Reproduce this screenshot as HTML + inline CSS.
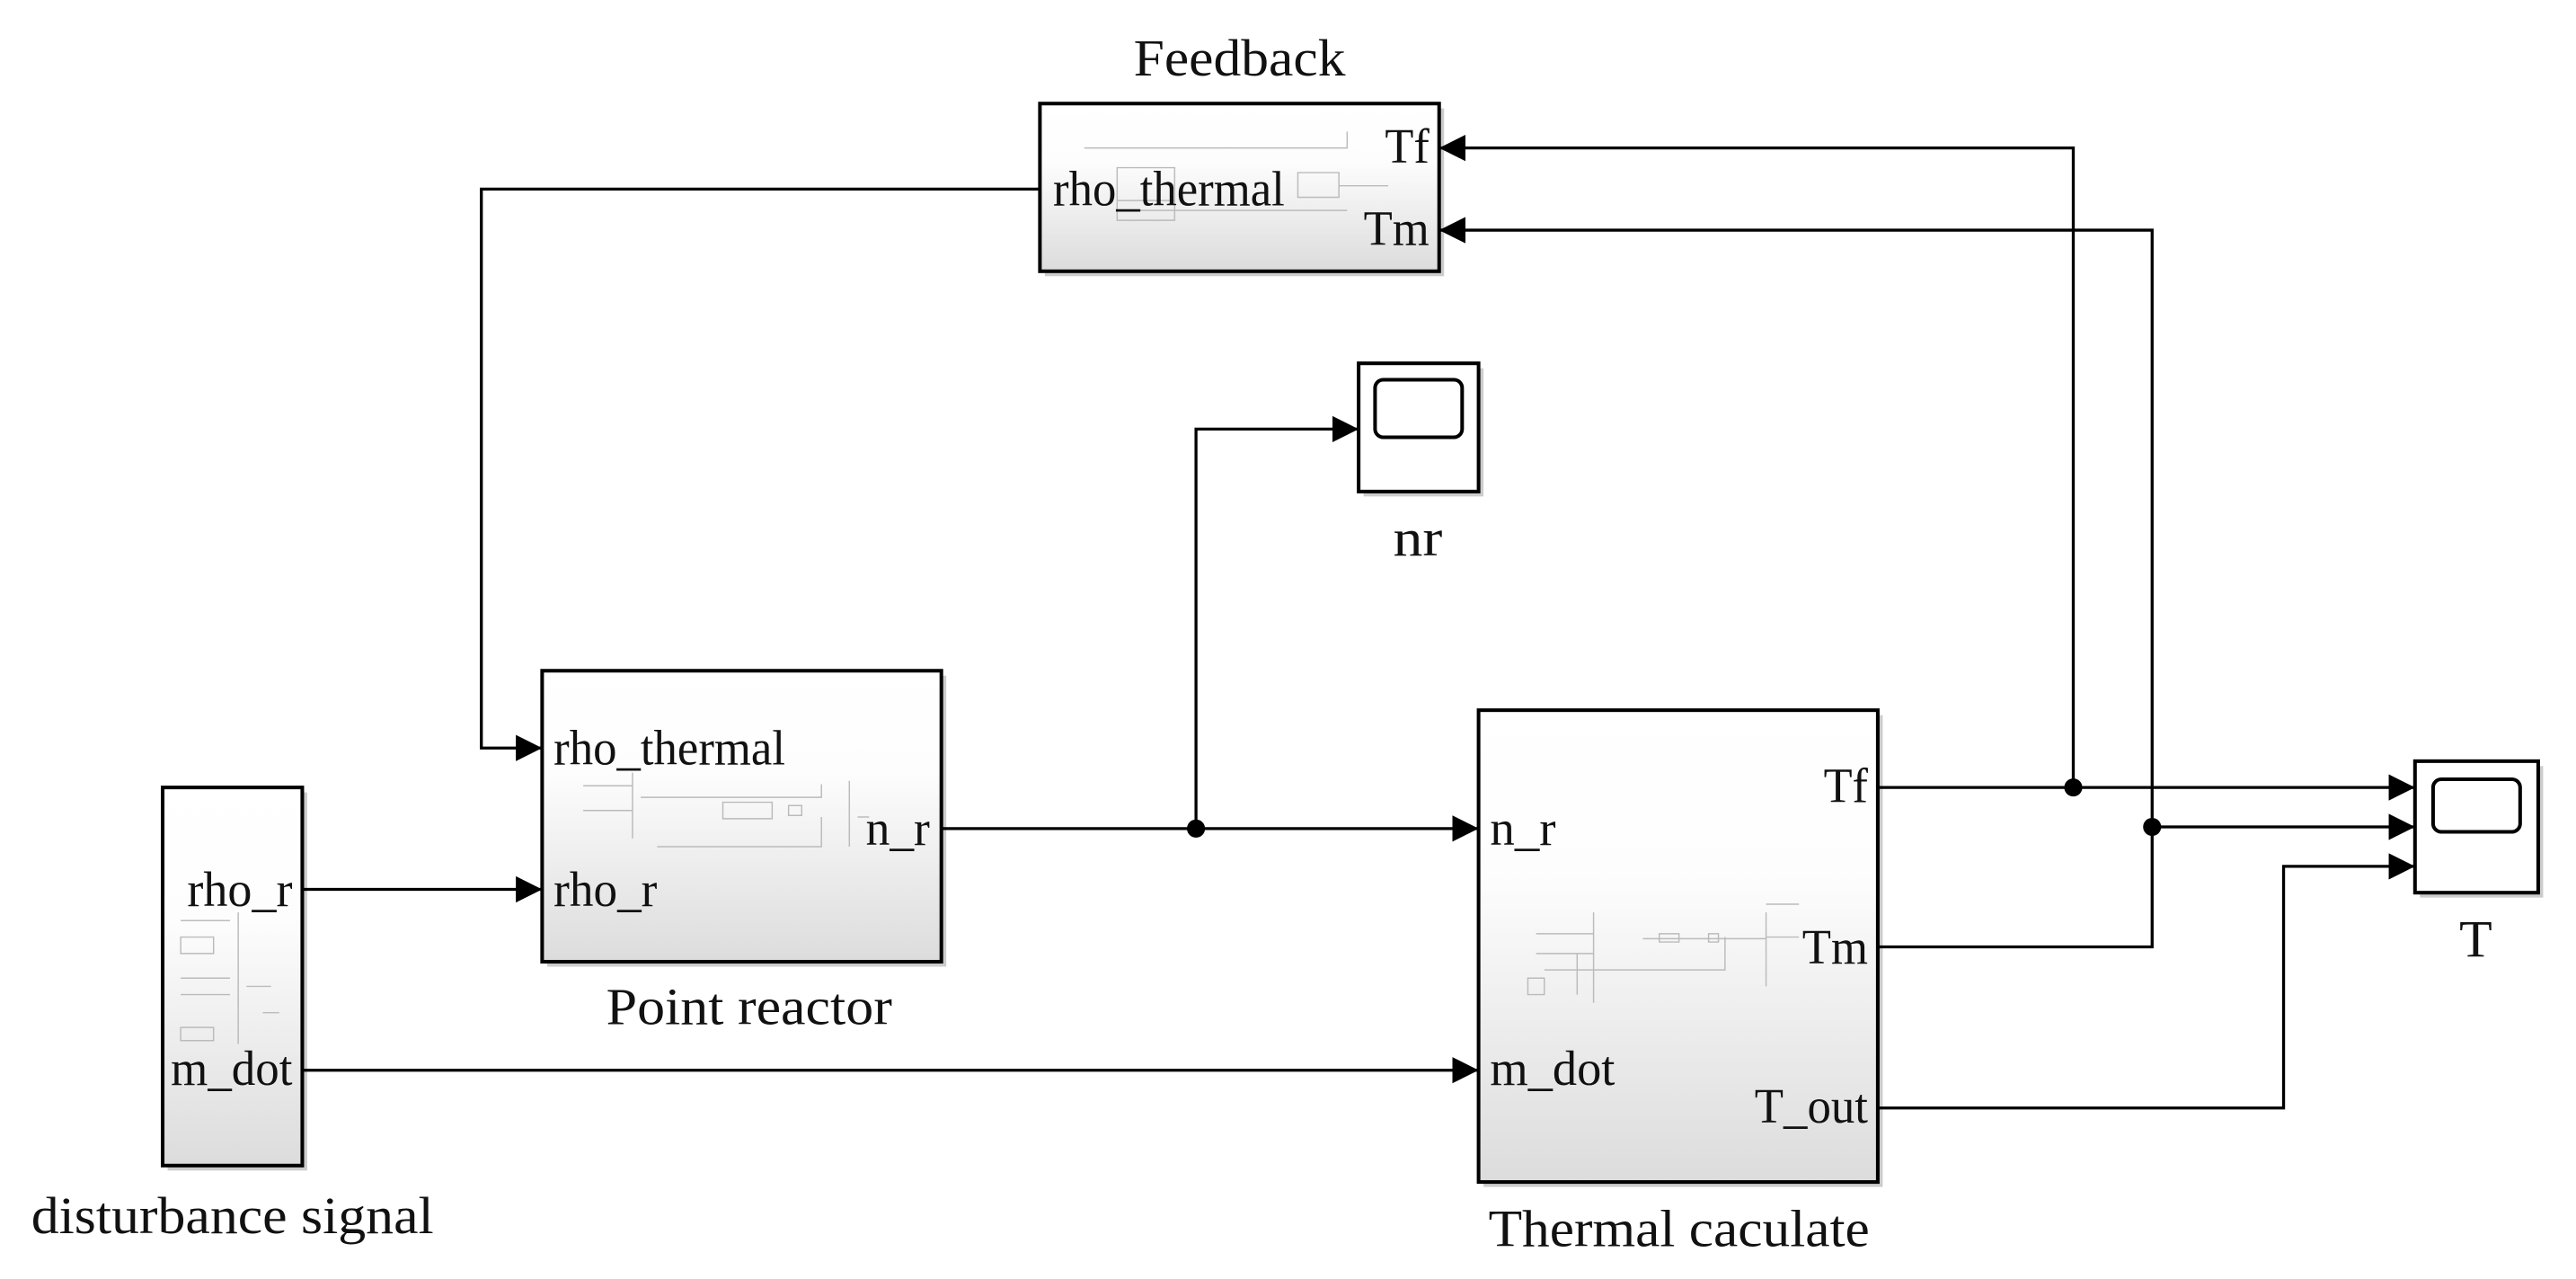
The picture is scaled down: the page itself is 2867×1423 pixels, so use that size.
<!DOCTYPE html>
<html><head><style>html,body{margin:0;padding:0;background:#fff}svg{display:block}</style></head>
<body>
<svg width="2867" height="1423" viewBox="0 0 1568 778" preserveAspectRatio="none" xmlns="http://www.w3.org/2000/svg" font-family="Liberation Serif, serif">
<defs>
<linearGradient id="g" x1="0" y1="0" x2="0" y2="1"><stop offset="0" stop-color="#fff"/><stop offset="0.35" stop-color="#fdfdfd"/><stop offset="1" stop-color="#dcdcdc"/></linearGradient>
<marker id="a" markerWidth="16" markerHeight="16" refX="16" refY="8" orient="auto" markerUnits="userSpaceOnUse"><path d="M0,0 L16,8 L0,16Z" fill="#000"/></marker>
</defs>
<g fill="#ccc"><rect x="636" y="66" width="243" height="102"/><rect x="333" y="411" width="243" height="177"/><rect x="102" y="482" width="85" height="230"/><rect x="903" y="435" width="243" height="287"/><rect x="830" y="224" width="73" height="78"/><rect x="1473" y="466" width="75" height="80"/></g>
<g stroke="#000" stroke-width="2.2"><rect x="633" y="63" width="243" height="102" fill="url(#g)"/><rect x="330" y="408" width="243" height="177" fill="url(#g)"/><rect x="99" y="479" width="85" height="230" fill="url(#g)"/><rect x="900" y="432" width="243" height="287" fill="url(#g)"/><rect x="827" y="221" width="73" height="78" fill="#fff"/><rect x="1470" y="463" width="75" height="80" fill="#fff"/>
<rect x="837" y="231" width="53" height="35" rx="5" fill="#fff"/><rect x="1481" y="474" width="53" height="32" rx="5" fill="#fff"/></g>
<g stroke="#bbb" stroke-width="0.8" fill="none">
<path d="M660,90H820V80 M680,102h35v20h-35z M790,105h25v15h-25z M815,113h30 M680,122h35v12h-35z M680,128H820"/>
<path d="M355,478H385 M355,493H385 M385,470v40 M390,485H500v-8M440,488h30v10h-30z M480,490h8v6h-8z M517,475v40 M522,497h7 M400,515H500v-18"/>
<path d="M110,560h30 M145,555v55 M110,570h20v10h-20z M110,595h30 M110,605h30 M145,590v45 M150,600h15 M110,625h20v8h-20z M160,616h10"/>
<path d="M935,568h35 M970,555v55 M935,580h35 M1000,571h75v-4 M1010,568h12v5h-12z M1040,568h6v5h-6z M1075,555v45 M1075,550h20 M1075,570h20 M940,590h110v-20 M930,595h10v10h-10z M960,580v25"/>
</g>
<g stroke="#000" stroke-width="1.8" fill="none">
<path d="M633,115H293V455H330" marker-end="url(#a)"/>
<path d="M184,541H330" marker-end="url(#a)"/>
<path d="M184,651H900" marker-end="url(#a)"/>
<path d="M573,504H900" marker-end="url(#a)"/>
<path d="M728,504V261H827" marker-end="url(#a)"/>
<path d="M1143,479H1470" marker-end="url(#a)"/>
<path d="M1262,479V90H876" marker-end="url(#a)"/>
<path d="M1143,576H1310V140H876" marker-end="url(#a)"/>
<path d="M1310,503H1470" marker-end="url(#a)"/>
<path d="M1143,674H1390V527H1470" marker-end="url(#a)"/>
</g>
<g fill="#000"><circle cx="728" cy="504" r="5.5"/><circle cx="1262" cy="479" r="5.5"/><circle cx="1310" cy="503" r="5.5"/></g>
<g font-size="30" fill="#111" lengthAdjust="spacingAndGlyphs">
<text x="690" y="46" font-size="32" textLength="129" lengthAdjust="spacingAndGlyphs">Feedback</text>
<text x="641" y="125" textLength="141" lengthAdjust="spacingAndGlyphs">rho_thermal</text>
<text x="843" y="99" textLength="27" lengthAdjust="spacingAndGlyphs">Tf</text>
<text x="830" y="149" textLength="40" lengthAdjust="spacingAndGlyphs">Tm</text>
<text x="848" y="338" font-size="32" textLength="30" lengthAdjust="spacingAndGlyphs">nr</text>
<text x="337" y="465" textLength="141" lengthAdjust="spacingAndGlyphs">rho_thermal</text>
<text x="337" y="551" textLength="63" lengthAdjust="spacingAndGlyphs">rho_r</text>
<text x="527" y="514" textLength="39" lengthAdjust="spacingAndGlyphs">n_r</text>
<text x="369" y="623" font-size="32" textLength="174" lengthAdjust="spacingAndGlyphs">Point reactor</text>
<text x="114" y="551" textLength="64" lengthAdjust="spacingAndGlyphs">rho_r</text>
<text x="104" y="660" textLength="74" lengthAdjust="spacingAndGlyphs">m_dot</text>
<text x="19" y="750" font-size="32" textLength="245" lengthAdjust="spacingAndGlyphs">disturbance signal</text>
<text x="907" y="514" textLength="40" lengthAdjust="spacingAndGlyphs">n_r</text>
<text x="907" y="660" textLength="76" lengthAdjust="spacingAndGlyphs">m_dot</text>
<text x="1110" y="488" textLength="27" lengthAdjust="spacingAndGlyphs">Tf</text>
<text x="1097" y="586" textLength="40" lengthAdjust="spacingAndGlyphs">Tm</text>
<text x="1068" y="683" textLength="69" lengthAdjust="spacingAndGlyphs">T_out</text>
<text x="906" y="758" font-size="32" textLength="232" lengthAdjust="spacingAndGlyphs">Thermal caculate</text>
<text x="1497" y="582" font-size="32" textLength="20" lengthAdjust="spacingAndGlyphs">T</text>
</g>
</svg>
</body></html>
